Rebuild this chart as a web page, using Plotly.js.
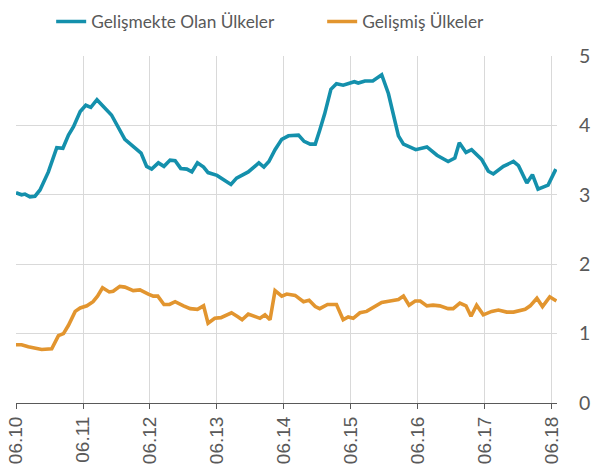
<!DOCTYPE html>
<html>
<head>
<meta charset="utf-8">
<script src="https://cdn.plot.ly/plotly-3.0.1.min.js"></script>
<style>html,body{margin:0;padding:0;background:#fff;}#chart{width:602px;height:466px;}</style>
</head>
<body>
<div id="chart"></div>
<script>
// Month offsets from June 2010 (06.10)
const emergingMonths = [0,1.0,1.6,2.5,3.4,4.3,5.8,7.3,8.4,9.4,10.3,11.5,12.5,13.4,14.5,16.2,17.1,19.5,21.0,22.4,23.4,24.3,25.5,26.5,27.6,28.5,29.5,30.6,31.5,32.5,33.6,34.4,36.0,37.3,38.5,39.5,41.6,43.5,44.4,45.3,46.4,47.6,48.8,50.6,51.6,52.7,53.6,54.4,55.3,56.4,57.4,58.6,59.5,60.6,61.3,62.5,63.9,65.5,66.7,67.6,68.5,69.4,70.6,71.6,73.6,75.4,77.4,78.6,79.4,80.6,81.6,83.4,84.6,85.5,87.3,89.1,90.0,91.5,92.5,93.5,95.3,96.7];
const emergingValues = [3.03,3.00,3.01,2.97,2.98,3.07,3.33,3.68,3.67,3.86,3.98,4.20,4.29,4.26,4.37,4.22,4.15,3.80,3.70,3.60,3.41,3.37,3.46,3.41,3.50,3.49,3.38,3.37,3.33,3.46,3.40,3.32,3.28,3.21,3.15,3.24,3.33,3.46,3.40,3.48,3.65,3.80,3.85,3.86,3.77,3.73,3.73,3.93,4.17,4.52,4.60,4.58,4.60,4.63,4.61,4.64,4.64,4.73,4.46,4.13,3.85,3.73,3.69,3.65,3.69,3.57,3.48,3.53,3.75,3.61,3.65,3.51,3.34,3.30,3.41,3.48,3.42,3.17,3.29,3.08,3.14,3.37];

const developedMonths = [0,1.0,2.2,4.6,6.4,7.6,8.5,9.4,10.6,11.5,12.7,13.8,14.6,15.5,16.7,17.4,18.6,19.5,21.0,22.2,23.7,24.6,25.4,26.5,27.5,28.5,30.0,31.2,32.5,33.6,34.4,35.6,36.7,38.6,39.8,40.5,41.6,43.7,44.6,45.5,46.4,47.6,48.5,50.0,51.5,52.5,53.6,54.4,55.8,57.4,58.6,59.5,60.4,61.6,62.8,64.0,65.5,67.0,68.5,69.4,70.4,71.5,72.4,73.6,74.7,75.9,77.4,78.3,79.5,80.6,81.5,82.5,83.7,85.2,86.4,87.9,89.1,91.2,92.1,93.3,94.3,95.6,96.8];
const developedValues = [0.84,0.84,0.81,0.77,0.78,0.97,1.00,1.12,1.32,1.37,1.40,1.46,1.54,1.66,1.60,1.61,1.68,1.67,1.62,1.63,1.57,1.54,1.54,1.42,1.42,1.46,1.40,1.36,1.35,1.40,1.15,1.22,1.23,1.30,1.24,1.20,1.28,1.22,1.27,1.20,1.62,1.54,1.57,1.55,1.46,1.48,1.39,1.36,1.42,1.42,1.20,1.24,1.22,1.30,1.32,1.38,1.45,1.47,1.49,1.54,1.41,1.47,1.47,1.40,1.41,1.40,1.36,1.36,1.44,1.40,1.25,1.41,1.27,1.32,1.34,1.31,1.31,1.35,1.40,1.51,1.39,1.53,1.47];

const tickMonths = [0,12,24,36,48,60,72,84,96];
const tickLabels = ['06.10','06.11','06.12','06.13','06.14','06.15','06.16','06.17','06.18'];
const yTicks = [0,1,2,3,4,5];

const seriesNames = ['Gelişmekte Olan Ülkeler','Gelişmiş Ülkeler'];

const traces = [
  {x: emergingMonths, y: emergingValues, name: seriesNames[0], type:'scatter', mode:'lines',
   line:{color:'#1490AC', width:3.6}},
  {x: developedMonths, y: developedValues, name: seriesNames[1], type:'scatter', mode:'lines',
   line:{color:'#E2952F', width:3.6}}
];

const layout = {
  width:602, height:466,
  margin:{l:16, r:45, t:56, b:63, autoexpand:false},
  paper_bgcolor:'#fff', plot_bgcolor:'#fff',
  showlegend:true,
  legend:{orientation:'h', xref:'container', x:0.085, xanchor:'left',
    yref:'container', y:0.992, yanchor:'top',
    font:{family:'Lato, Calibri, sans-serif', size:17.3, color:'#595959'},
    entrywidth:226, entrywidthmode:'pixels', itemwidth:30, tracegroupgap:0},
  xaxis:{range:[0,96.9], tickmode:'array', tickvals:tickMonths, ticktext:tickLabels,
    tickangle:-90, ticks:'outside', ticklen:5, tickcolor:'#595959',
    showline:true, linecolor:'#595959', linewidth:1,
    showgrid:true, gridcolor:'#D9D9D9', gridwidth:1, zeroline:false,
    tickfont:{family:'Liberation Sans, Arial, sans-serif', size:19, color:'#595959'}},
  yaxis:{range:[0,5], side:'right', tickmode:'array', tickvals:yTicks,
    showgrid:true, gridcolor:'#D9D9D9', gridwidth:1, zeroline:false, showline:false,
    ticks:'outside', ticklen:17, tickcolor:'rgba(0,0,0,0)',
    tickfont:{family:'Lato, Calibri, sans-serif', size:19.5, color:'#595959'}}
};

Plotly.newPlot('chart', traces, layout, {displayModeBar:false, staticPlot:true});
</script>
</body>
</html>
